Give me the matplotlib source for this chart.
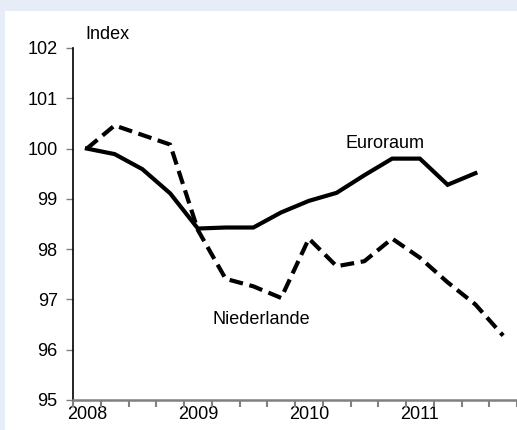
import matplotlib.pyplot as plt
from matplotlib.patches import Rectangle

plt.rcParams['font.family'] = ['Liberation Sans', 'DejaVu Sans']

# quarterly values, 2008Q1 .. 2011Q4
quarters = list(range(16))
year_labels = ['2008', '2009', '2010', '2011']
euroraum = [100.0, 99.89, 99.59, 99.11, 98.41, 98.43, 98.43, 98.73,
            98.96, 99.12, 99.47, 99.80, 99.80, 99.28, 99.51]
niederlande = [100.0, 100.46, 100.27, 100.08, 98.38, 97.41, 97.26, 97.03,
               98.21, 97.66, 97.76, 98.21, 97.83, 97.34, 96.90, 96.28]

fig = plt.figure(figsize=(5.17, 4.30), dpi=100)
fig.patch.set_facecolor('#e6edf6')
fig.patches.append(Rectangle((5 / 517, 0), 1, 419 / 430, transform=fig.transFigure,
                             facecolor='white', edgecolor='none', zorder=-1))

ax = fig.add_axes([73 / 517, 30 / 430, 444 / 517, 352 / 430])
ax.set_facecolor('none')

ax.plot(quarters[:len(euroraum)], euroraum, color='black', lw=3.0,
        solid_joinstyle='miter', clip_on=False)
ax.plot(quarters, niederlande, color='black', lw=3.0, linestyle=(0, (3.3, 1.6)),
        clip_on=False)

ax.set_ylim(95, 102)
ax.set_yticks(range(95, 103))
ax.set_xlim(-0.5, 15.5)
ax.set_xticks([x - 0.5 for x in range(17)], minor=True)
ax.set_xticks([0, 4, 8, 12])
ax.set_xticklabels(year_labels)

ax.tick_params(axis='x', which='major', length=0, labelsize=13, pad=4)
ax.tick_params(axis='x', which='minor', length=5, color='#808080', width=1.5)
ax.tick_params(axis='y', length=5, color='#808080', width=1, labelsize=13, pad=6)

for s in ['top', 'right']:
    ax.spines[s].set_visible(False)
ax.spines['left'].set_color('black')
ax.spines['left'].set_linewidth(1.2)
ax.spines['bottom'].set_color('#808080')
ax.spines['bottom'].set_linewidth(1.8)

ax.text(0.75, 102.1, 'Index', fontsize=13, ha='center', va='bottom')
ax.text(10.75, 100.1, 'Euroraum', fontsize=13, ha='center', va='center')
ax.text(6.3, 96.6, 'Niederlande', fontsize=13, ha='center', va='center')

fig.savefig('out.png', dpi=100)
